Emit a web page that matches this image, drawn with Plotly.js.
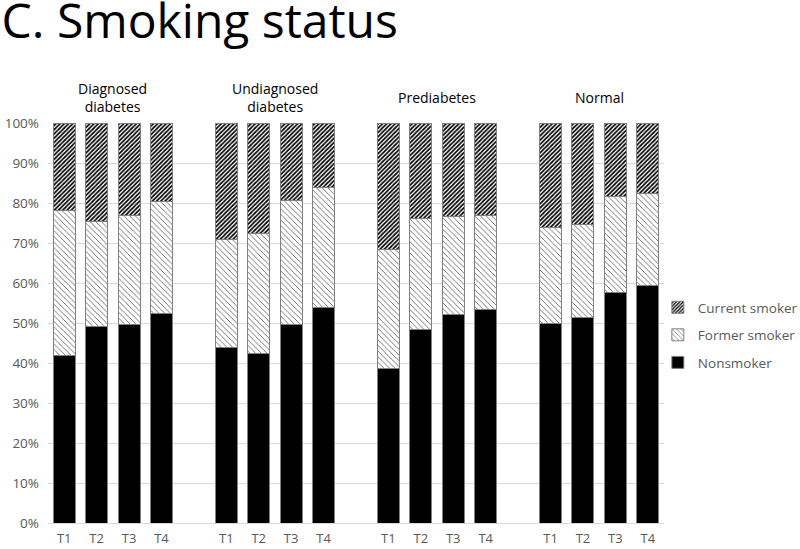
<!DOCTYPE html>
<html>
<head>
<meta charset="utf-8">
<script src="https://cdn.plot.ly/plotly-3.0.1.min.js"></script>
<style>
  html, body { margin: 0; padding: 0; background: #fff; }
  #chart { width: 800px; height: 549px; }
</style>
</head>
<body>
<div id="chart"></div>
<script>
// groups and time points
const groups = ["Diagnosed<br>diabetes", "Undiagnosed<br>diabetes", "Prediabetes", "Normal"];
const timepoints = ["T1", "T2", "T3", "T4"];

// shares in percent, per group T1..T4
const nonsmoker = [
  42.0, 49.2, 49.7, 52.4,
  43.8, 42.4, 49.7, 53.9,
  38.7, 48.5, 52.2, 53.5,
  49.8, 51.3, 57.7, 59.3
];
const formerSmoker = [
  36.2, 26.1, 27.1, 28.1,
  27.0, 30.1, 30.9, 30.1,
  29.7, 27.6, 24.4, 23.3,
  24.0, 23.4, 24.0, 23.1
];
const currentSmoker = [
  21.8, 24.7, 23.2, 19.5,
  29.2, 27.5, 19.4, 16.0,
  31.6, 23.9, 23.4, 23.2,
  26.2, 25.3, 18.3, 17.6
];

// one empty slot between groups
const slotsPerGroup = timepoints.length + 1;
let xPos = [], tickText = [];
groups.forEach((g, gi) => {
  timepoints.forEach((t, ti) => {
    xPos.push(gi * slotsPerGroup + ti);
    tickText.push(t);
  });
});

const outline = {color: '#808080', width: 1};
const barWidth = 0.68;

const traceNon = {
  x: xPos, y: nonsmoker, type: 'bar', name: 'Nonsmoker', width: barWidth,
  legendgroup: 'a', legendrank: 3,
  marker: {color: '#000000', line: outline},
  hoverinfo: 'skip'
};
const traceFormer = {
  x: xPos, y: formerSmoker, type: 'bar', name: 'Former smoker', width: barWidth,
  legendgroup: 'b', legendrank: 2,
  marker: {color: '#ffffff', line: outline,
           pattern: {shape: '\\', fgcolor: '#555555', bgcolor: '#ffffff', size: 4, solidity: 0.2}},
  hoverinfo: 'skip'
};
const traceCurrent = {
  x: xPos, y: currentSmoker, type: 'bar', name: 'Current smoker', width: barWidth,
  legendgroup: 'c', legendrank: 1,
  marker: {color: '#ffffff', line: outline,
           pattern: {shape: '/', fgcolor: '#000000', bgcolor: '#ffffff', size: 3, solidity: 0.55}},
  hoverinfo: 'skip'
};

const nSlots = groups.length * slotsPerGroup - 1;

const annotations = groups.map((g, gi) => ({
  text: g,
  x: gi * slotsPerGroup + (timepoints.length - 1) / 2,
  xref: 'x',
  y: 1.065, yref: 'paper',
  yanchor: 'middle',
  showarrow: false,
  font: {family: 'Open Sans, sans-serif', size: 14, color: '#000'}
}));

const layout = {
  width: 800,
  height: 549,
  barmode: 'stack',
  paper_bgcolor: '#fff',
  plot_bgcolor: '#fff',
  margin: {l: 48, r: 136, t: 123, b: 26, autoexpand: false},
  font: {family: 'Open Sans, sans-serif', color: '#595959'},
  title: {
    text: 'C. Smoking status',
    x: 0.002, xref: 'container', xanchor: 'left',
    y: 0.992, yref: 'container', yanchor: 'top',
    pad: {t: 0, l: 0},
    font: {family: 'Open Sans, sans-serif', size: 48, color: '#000'}
  },
  xaxis: {
    range: [-0.5, nSlots - 0.5],
    tickvals: xPos,
    ticktext: tickText,
    tickfont: {size: 13, color: '#595959'},
    ticklabelstandoff: 3,
    showgrid: false,
    showline: true,
    linecolor: '#d9d9d9',
    ticks: '',
    zeroline: false,
    fixedrange: true
  },
  yaxis: {
    range: [0, 100],
    dtick: 10,
    ticksuffix: '%',
    tickfont: {size: 13.5, color: '#595959'},
    ticklabelstandoff: 8,
    gridcolor: '#d9d9d9',
    showline: false,
    zeroline: false,
    ticks: '',
    fixedrange: true
  },
  legend: {
    x: 0.99, xanchor: 'left',
    y: 0.47, yanchor: 'middle',
    bgcolor: 'rgba(0,0,0,0)',
    traceorder: 'grouped',
    font: {size: 13.5, color: '#595959'},
    itemwidth: 30,
    tracegroupgap: 7
  },
  annotations: annotations
};

Plotly.newPlot('chart', [traceNon, traceFormer, traceCurrent], layout, {displayModeBar: false, staticPlot: true});
</script>
</body>
</html>
